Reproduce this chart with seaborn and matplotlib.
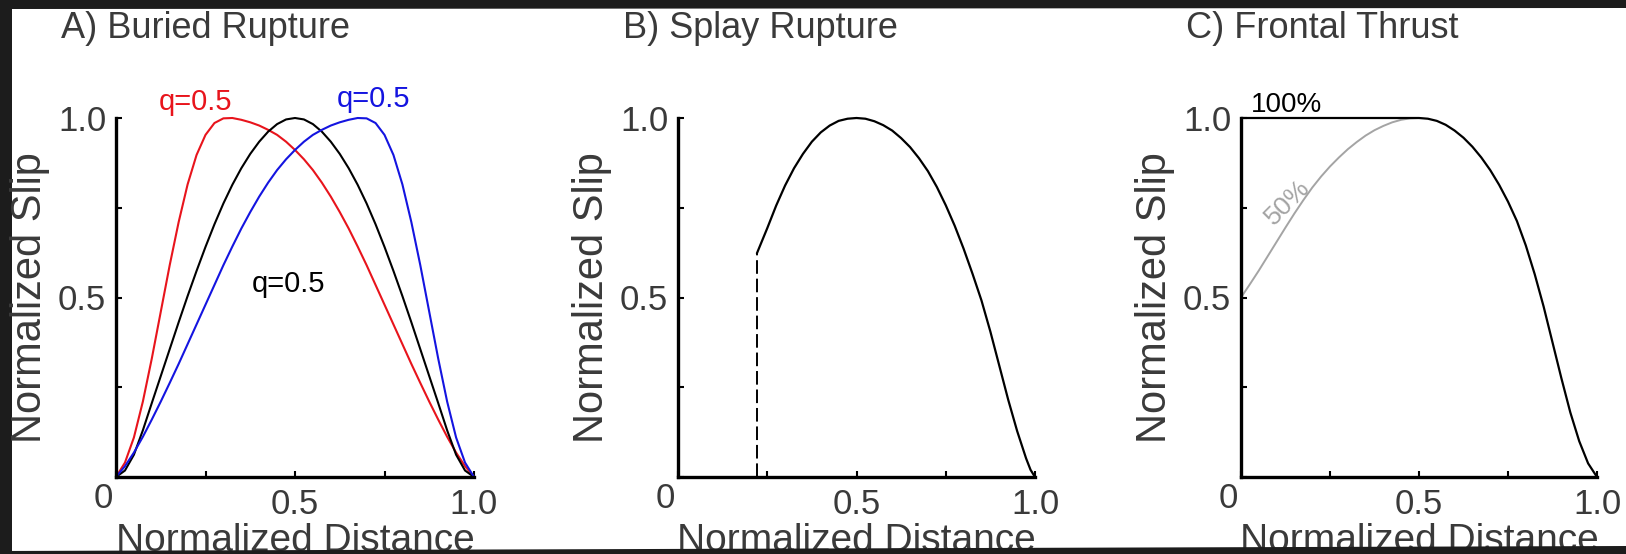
import numpy as np
import pandas as pd
import seaborn as sns
import matplotlib.pyplot as plt
from matplotlib.patches import Polygon

# ---- data ----
# panel A: buried rupture, three slip profiles
a_x = [0, 0.025, 0.05, 0.075, 0.1, 0.125, 0.15, 0.175, 0.2, 0.225, 0.25, 0.275,
       0.3, 0.325, 0.35, 0.375, 0.4, 0.425, 0.45, 0.475, 0.5, 0.525, 0.55, 0.575,
       0.6, 0.625, 0.65, 0.675, 0.7, 0.725, 0.75, 0.775, 0.8, 0.825, 0.85, 0.875,
       0.9, 0.925, 0.95, 0.975, 1.0]
a_red = [0, 0.04, 0.11, 0.21, 0.33, 0.46, 0.59, 0.71, 0.815, 0.897, 0.953, 0.986,
         0.999, 1.0, 0.995, 0.988, 0.979, 0.967, 0.953, 0.934, 0.911, 0.885, 0.855, 0.82,
         0.781, 0.738, 0.692, 0.642, 0.59, 0.535, 0.48, 0.425, 0.37, 0.315, 0.262, 0.21,
         0.16, 0.112, 0.068, 0.03, 0]
a_black = [0, 0.018, 0.062, 0.13, 0.206, 0.281, 0.356, 0.431, 0.504, 0.574, 0.641, 0.704,
           0.762, 0.814, 0.86, 0.9, 0.934, 0.962, 0.983, 0.996, 1.0, 0.996, 0.983, 0.962,
           0.934, 0.9, 0.86, 0.814, 0.762, 0.704, 0.641, 0.574, 0.504, 0.431, 0.356, 0.281,
           0.206, 0.13, 0.062, 0.018, 0]
a_blue = [0, 0.03, 0.068, 0.112, 0.16, 0.21, 0.262, 0.315, 0.37, 0.425, 0.48, 0.535,
          0.59, 0.642, 0.692, 0.738, 0.781, 0.82, 0.855, 0.885, 0.911, 0.934, 0.953, 0.967,
          0.979, 0.988, 0.995, 1.0, 0.999, 0.986, 0.953, 0.897, 0.815, 0.71, 0.59, 0.46,
          0.33, 0.21, 0.11, 0.04, 0]

# panel B: splay rupture
b_x = [0.221, 0.25, 0.275, 0.3, 0.325, 0.35, 0.375, 0.4, 0.425, 0.45, 0.475, 0.5,
       0.525, 0.55, 0.575, 0.6, 0.625, 0.65, 0.675, 0.7, 0.725, 0.75, 0.775, 0.8,
       0.825, 0.85, 0.875, 0.9, 0.925, 0.95, 0.975, 0.9875, 1.0]
b_y = [0.623, 0.693, 0.756, 0.812, 0.86, 0.9, 0.934, 0.96, 0.979, 0.992, 0.998, 1.0,
       0.998, 0.991, 0.98, 0.965, 0.944, 0.919, 0.888, 0.852, 0.808, 0.757, 0.7, 0.636,
       0.566, 0.492, 0.405, 0.31, 0.215, 0.128, 0.052, 0.02, 0]
b_dash_x = [0.221, 0.221]
b_dash_y = [0, 0.623]

# panel C: frontal thrust, 100% and 50% slip at the trench
c_x = [0, 0.5, 0.525, 0.55, 0.575, 0.6, 0.625, 0.65, 0.675, 0.7, 0.725, 0.75, 0.775,
       0.8, 0.825, 0.85, 0.875, 0.9, 0.925, 0.95, 0.975, 1.0]
c_full = [1, 1, 0.998, 0.992, 0.981, 0.965, 0.945, 0.92, 0.89, 0.855, 0.814, 0.767, 0.713,
          0.645, 0.565, 0.475, 0.375, 0.275, 0.18, 0.1, 0.038, 0]
c_half_x = [0, 0.025, 0.05, 0.075, 0.1, 0.125, 0.15, 0.175, 0.2, 0.225, 0.25, 0.275,
            0.3, 0.325, 0.35, 0.375, 0.4, 0.425, 0.45, 0.475, 0.5]
c_half = [0.5, 0.537, 0.575, 0.615, 0.655, 0.695, 0.734, 0.771, 0.806, 0.837, 0.865, 0.89,
          0.913, 0.933, 0.951, 0.966, 0.978, 0.988, 0.995, 0.999, 1.0]

titles = ["A) Buried Rupture", "B) Splay Rupture", "C) Frontal Thrust"]
tick_vals = [0, 0.5, 1.0]
tick_labels = ["", "0.5", "1.0"]

# ---- style ----
sns.set_style("ticks")
plt.rcParams["font.family"] = ["Liberation Sans", "DejaVu Sans"]
TXT = "#3a3a3a"
DARK = "#1c1c1c"

W, H = 1626, 554
fig = plt.figure(figsize=(W / 100, H / 100), dpi=100)
fig.patch.set_facecolor(DARK)
fig.add_artist(Polygon([[12 / W, (H - 9) / H], [1, (H - 8) / H], [1, 0], [12 / W, 0]],
                       closed=True, transform=fig.transFigure, facecolor="white",
                       edgecolor="none", zorder=-1))
# dark strip cutting the bottom (photo slightly rotated)
fig.add_artist(Polygon([[0, 0], [1, 0], [1, (H - 546) / H], [0, (H - 551) / H]],
                       closed=True, transform=fig.transFigure, facecolor=DARK,
                       edgecolor="none", zorder=10))

lefts = [116, 678, 1241]
widths = [358, 357, 356]
axes = [fig.add_axes([l / W, (H - 477) / H, w / W, 359 / H]) for l, w in zip(lefts, widths)]


def draw(ax, x, y, color, lw=1.5, **kw):
    sns.lineplot(x=x, y=y, ax=ax, color=color, lw=lw, estimator=None, sort=False, **kw)
    ax.lines[-1].set_clip_on(False)
    ax.lines[-1].set_solid_joinstyle("round")


# A
ax = axes[0]
draw(ax, a_x, a_red, "#e8141c")
draw(ax, a_x, a_black, "black")
draw(ax, a_x, a_blue, "#1414e0")
ax.text(0.12, 1.022, "q=0.5", color="#e8141c", fontsize=21, va="baseline")
ax.text(0.617, 1.031, "q=0.5", color="#1414e0", fontsize=21, va="baseline")
ax.text(0.379, 0.516, "q=0.5", color="black", fontsize=21, va="baseline")

# B
ax = axes[1]
draw(ax, b_x, b_y, "black", lw=1.6)
draw(ax, b_dash_x, b_dash_y, "black", lw=1.4, dashes=(7, 2.5))

# C
ax = axes[2]
draw(ax, c_half_x, c_half, "#a4a4a4", lw=1.4)
draw(ax, c_x, c_full, "black", lw=1.6)
ax.text(0.029, 1.017, "100%", color="black", fontsize=20, va="baseline")
ax.text(0.13, 0.766, "50%", color="#a4a4a4", fontsize=19, rotation=45,
        ha="center", va="center", rotation_mode="anchor")

for ax, title in zip(axes, titles):
    ax.set_xlim(0, 1)
    ax.set_ylim(0, 1)
    ax.patch.set_alpha(0)
    sns.despine(ax=ax)
    for s in ["left", "bottom"]:
        ax.spines[s].set_linewidth(2.4)
        ax.spines[s].set_color("black")
    ax.set_xticks(tick_vals)
    ax.set_xticklabels(tick_labels)
    ax.set_yticks(tick_vals)
    ax.set_yticklabels(tick_labels)
    ax.set_xticks([0.25, 0.75], minor=True)
    ax.set_yticks([0.25, 0.75], minor=True)
    ax.tick_params(which="both", direction="in", length=4.5, width=1.5, color="black",
                   labelcolor=TXT, labelsize=25)
    ax.tick_params(axis="x", pad=8)
    ax.tick_params(axis="y", pad=7)
    ax.set_xlabel("Normalized Distance", fontsize=28, color=TXT)
    ax.set_ylabel("Normalized Slip", fontsize=30, color=TXT)
    ax.xaxis.set_label_coords(0.5, -0.128)
    ax.yaxis.set_label_coords(-0.184, 0.5)
    ax.annotate("0", xy=(0, 0), xycoords="axes fraction", xytext=(-13, -5),
                textcoords="offset pixels", ha="center", va="top", fontsize=25, color=TXT)
    ax.text(-55 / 358, 1.2228, title, transform=ax.transAxes, fontsize=26,
            color=TXT, ha="left", va="baseline")

fig.savefig("out.png", dpi=100, facecolor=fig.get_facecolor())
